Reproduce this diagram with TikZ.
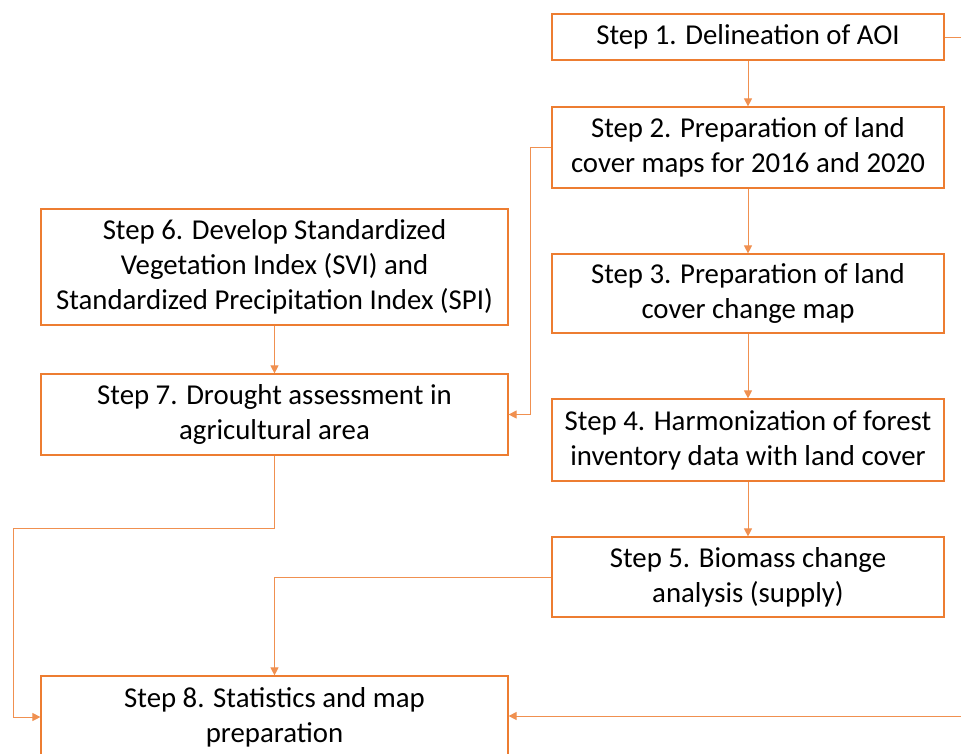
\documentclass[tikz,border=0pt]{standalone}
\usepackage{fontspec}
\setmainfont{Carlito}
\usetikzlibrary{arrows.meta}
\definecolor{orng}{HTML}{ED7D31}
\begin{document}
\begin{tikzpicture}[x=1pt,y=-1pt,
  stepbox/.style={draw=orng,line width=1.2pt,fill=white,align=center,
    font=\fontsize{28.8}{35}\selectfont,inner sep=0pt,minimum width=#1},
  conn/.style={draw=orng!85,line width=1pt},
  arr/.style={conn,-{Triangle[length=8pt,width=8pt]}}]
\useasboundingbox (0,0) rectangle (961,753);
\node[stepbox=392pt,minimum height=46pt] (s1) at (748,37) {Step 1. Delineation of AOI};
\node[stepbox=392pt,minimum height=81pt] (s2) at (748,147.5) {Step 2. Preparation of land\\cover maps for 2016 and 2020};
\node[stepbox=392pt,minimum height=79pt] (s3) at (748,293.5) {Step 3. Preparation of land\\cover change map};
\node[stepbox=392pt,minimum height=82pt] (s4) at (748,440) {Step 4. Harmonization of forest\\inventory data with land cover};
\node[stepbox=392pt,minimum height=80pt] (s5) at (748,577) {Step 5. Biomass change\\analysis (supply)};
\node[stepbox=467pt,minimum height=116pt] (s6) at (274.5,267) {Step 6. Develop Standardized\\Vegetation Index (SVI) and\\Standardized Precipitation Index (SPI)};
\node[stepbox=467pt,minimum height=81pt] (s7) at (274.5,414.5) {Step 7. Drought assessment in\\agricultural area};
\node[stepbox=467pt,minimum height=82pt] (s8) at (274.5,717) {Step 8. Statistics and map\\preparation};
\coordinate (e1) at (961,37);
\coordinate (e8) at (961,716);
\draw[conn] (s1.east) -- (e1);
\draw[arr] (s1.south) -- (s2.north);
\draw[arr] (s2.south) -- (s3.north);
\draw[arr] (s3.south) -- (s4.north);
\draw[arr] (s4.south) -- (s5.north);
\draw[arr] (s6.south) -- (s7.north);
\draw[arr] (s2.west) -- (530,147.5) |- (s7.east);
\draw[arr] (s7.south) -- (274.5,528) -- (13,528) |- (s8.west);
\draw[arr] (s5.west) -| (s8.north);
\draw[arr] (e8) -- (s8.east |- e8);
\end{tikzpicture}
\end{document}
